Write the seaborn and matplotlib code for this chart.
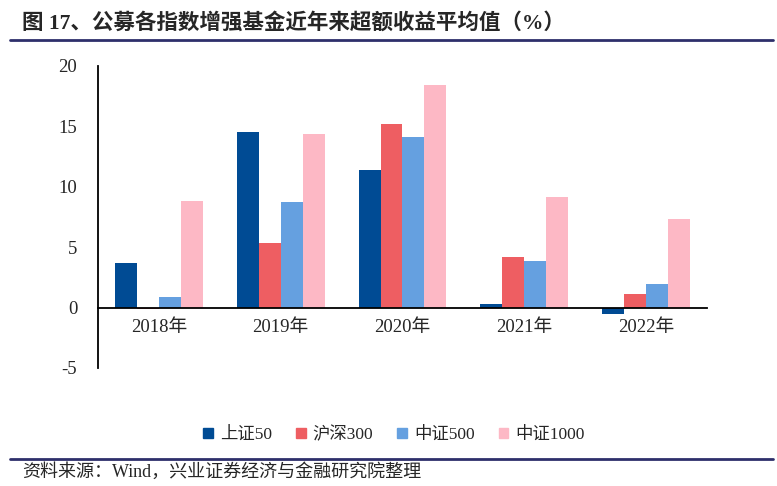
import pandas as pd
import matplotlib.pyplot as plt
import seaborn as sns

# data
years = ['2018年', '2019年', '2020年', '2021年', '2022年']
sz50 = [3.7, 14.5, 11.35, 0.28, -0.52]
hs300 = [-0.1, 5.35, 15.2, 4.15, 1.13]
zz500 = [0.88, 8.75, 14.1, 3.87, 1.94]
zz1000 = [8.8, 14.4, 18.4, 9.15, 7.35]
series = ['上证50', '沪深300', '中证500', '中证1000']
colours = ['#004B94', '#EE5E62', '#65A0E0', '#FDB8C5']

df = pd.DataFrame({'年份': years * 4,
                   '指数': [s for s in series for _ in years],
                   '值': sz50 + hs300 + zz500 + zz1000})

sns.set_style('white')
plt.rcParams['font.family'] = ['Liberation Serif', 'Noto Sans CJK SC']
plt.rcParams['axes.unicode_minus'] = False

fig = plt.figure(figsize=(7.77, 4.86), dpi=100)
ax = fig.add_axes([0.1261, 0.2428, 0.7838, 0.6214])

sns.barplot(data=df, x='年份', y='值', hue='指数', palette=colours,
            saturation=1, width=0.72, gap=0, ax=ax, legend=False)
for p in ax.patches:
    p.set_edgecolor('none')

ax.set_xlim(-0.5, 4.5)
ax.set_ylim(-5, 20)
ax.set_yticks([-5, 0, 5, 10, 15, 20])
ax.set_yticklabels(['-5', '0', '5', '10', '15', '20'])
ax.set_xlabel('')
ax.set_ylabel('')
for s in ['top', 'right']:
    ax.spines[s].set_visible(False)
ax.spines['bottom'].set_position(('data', 0))
ax.spines['left'].set_color('black')
ax.spines['bottom'].set_color('black')
ax.spines['left'].set_linewidth(1.3)
ax.spines['bottom'].set_linewidth(1.3)
ax.tick_params(axis='y', direction='in', length=5, width=1.3, labelsize=13.5, pad=15)
ax.tick_params(axis='x', length=0, labelsize=13.5, pad=8)

# legend
handles = [plt.Rectangle((0, 0), 1, 1, color=c) for c in colours]
fig.legend(handles, series, loc='center', bbox_to_anchor=(0.507, 0.105), ncol=4,
           frameon=False, fontsize=12.5, handlelength=0.55, handleheight=0.55,
           handletextpad=0.4, columnspacing=1.4)

# title, rules and source
fig.text(0.028, 0.953, '图 17、公募各指数增强基金近年来超额收益平均值（%）',
         fontsize=15.5, fontweight='bold', va='center', ha='left')
fig.add_artist(plt.Line2D([0.013, 0.995], [0.918, 0.918], color='#2E2F6B', lw=2))
fig.add_artist(plt.Line2D([0.013, 0.995], [0.056, 0.056], color='#2E2F6B', lw=2))
fig.text(0.028, 0.028, '资料来源：Wind，兴业证券经济与金融研究院整理',
         fontsize=13, va='center', ha='left')

fig.savefig('out.png', dpi=100)
